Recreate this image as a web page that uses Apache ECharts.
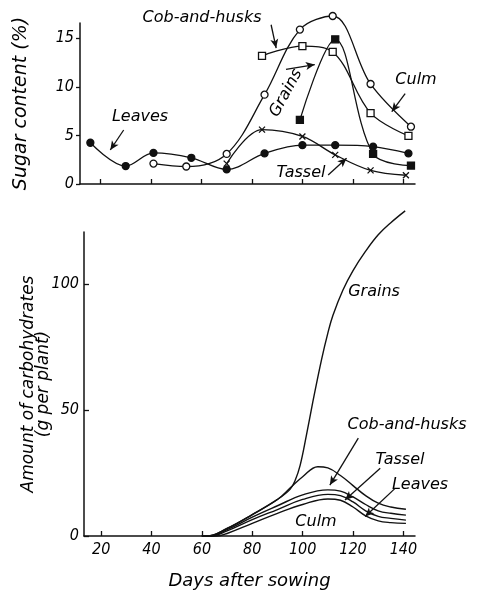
<!DOCTYPE html>
<html><head><meta charset="utf-8">
<script src="https://cdn.jsdelivr.net/npm/echarts@6/dist/echarts.min.js"></script>
<style>html,body{margin:0;padding:0;background:#fff}#c{width:481px;height:590px}</style>
</head><body><div id="c"></div>
<script>
// ---- Top panel: sugar content (%) ----
const leavesDays = [16, 30, 41, 56, 70, 85, 100, 113, 128, 142];
const leavesSugar = [4.25, 1.85, 3.2, 2.7, 1.5, 3.15, 4.0, 4.0, 3.85, 3.15];
const culmDays = [41, 54, 70, 85, 99, 112, 127, 143];
const culmSugar = [2.1, 1.8, 3.1, 9.2, 15.9, 17.3, 10.3, 5.9];
const cobDays = [84, 100, 112, 127, 142];
const cobSugar = [13.2, 14.2, 13.6, 7.3, 4.95];
const grainDays = [99, 113, 128, 143];
const grainSugar = [6.6, 14.9, 3.1, 1.9];
const tasselDays = [70, 84, 100, 113, 127, 141];
const tasselSugar = [2.1, 5.6, 4.9, 3.0, 1.4, 0.9];
const topYTicks = [0, 5, 10, 15];

// ---- Bottom panel: amount of carbohydrates (g per plant), cumulative curves ----
const culmAmtDays = [60, 66, 70, 80, 90, 100, 110, 115, 120, 125, 130, 135, 141];
const culmAmt = [0, 0, 1, 5, 9, 12.5, 14.7, 14.2, 11.5, 8, 6, 5.3, 5.0];
const leavesAmtDays = [60, 64, 70, 80, 90, 100, 110, 115, 120, 125, 130, 135, 141];
const leavesAmt = [0, 0, 2, 6.5, 10.5, 14.5, 16.5, 16, 13.5, 10, 7.8, 7, 6.3];
const tasselAmtDays = [60, 63, 70, 80, 90, 100, 110, 115, 120, 125, 130, 135, 141];
const tasselAmt = [0, 0, 2.5, 7.5, 12, 16.3, 18.3, 17.8, 15.5, 12.5, 10, 9, 8.3];
const cobAmtDays = [60, 62, 70, 80, 90, 95, 100, 106, 110, 115, 120, 125, 130, 135, 141];
const cobAmt = [0, 0, 3, 8.5, 14.5, 19, 23.5, 27.5, 27, 24, 20, 16, 13, 11.5, 10.6];
const grainAmtDays = [60, 62, 70, 80, 90, 95, 97, 99, 101.5, 104, 107.5, 110, 112, 116, 120, 125, 130, 135, 140.7];
const grainAmt = [0, 0, 3, 8.5, 14.5, 18.5, 22, 28, 40, 53, 70, 80.5, 87.5, 97.6, 105.3, 113, 119.5, 124.3, 129];
const xTicks = [20, 40, 60, 80, 100, 120, 140];
const bottomYTicks = [0, 50, 100];

const zip = (a, b) => a.map((v, i) => [v, b[i]]);
const FONT = 'DejaVu Sans';
const NUMFONT = '"Liberation Sans Narrow", "DejaVu Sans Condensed", "DejaVu Sans"';
const txt = {fontFamily: FONT, fontStyle: 'italic', color: '#000'};
const num = {fontFamily: NUMFONT, fontStyle: 'italic', color: '#000'};
const blk = '#111';

function arrow(p1, p2) { return [{coord: p1}, {coord: p2}]; }
const arrowStyle = {
  silent: true, symbol: ['none', 'arrow'], symbolSize: [6, 9],
  lineStyle: {color: blk, width: 1.3, type: 'solid'}, label: {show: false},
  animation: false
};

const chart = echarts.init(document.getElementById('c'), null, {renderer: 'canvas'});

const topSeries = (name, d, v, symbol, filled, size, arrows) => ({
  name, type: 'line', xAxisIndex: 0, yAxisIndex: 0, data: zip(d, v), smooth: 0.35,
  symbol, symbolSize: size, showAllSymbol: true, clip: false,
  lineStyle: {color: blk, width: 1.3},
  itemStyle: {color: filled ? blk : '#fff', borderColor: blk, borderWidth: 1.3},
  markLine: arrows ? Object.assign({data: arrows}, arrowStyle) : undefined,
  z: 3
});
const botSeries = (name, d, v, arrows) => ({
  name, type: 'line', xAxisIndex: 1, yAxisIndex: 1, data: zip(d, v), smooth: 0.4,
  symbol: 'none', clip: false, lineStyle: {color: blk, width: 1.4},
  markLine: arrows ? Object.assign({data: arrows}, arrowStyle) : undefined
});

const axisCommon = {
  axisLine: {show: true, lineStyle: {color: blk, width: 1.5}},
  splitLine: {show: false}
};
const label = (text, x, y, rot) => ({
  type: 'text', x, y, rotation: rot ? rot * Math.PI / 180 : 0,
  style: {text, font: 'italic 16px ' + FONT, fill: '#000', align: 'center', verticalAlign: 'middle'}
});

chart.setOption({
  animation: false,
  backgroundColor: '#fff',
  grid: [
    {left: 80, top: 23, width: 335, height: 161, containLabel: false, outerBoundsMode: 'none'},
    {left: 84, top: 232, width: 331, height: 304, containLabel: false, outerBoundsMode: 'none'}
  ],
  xAxis: [
    Object.assign({type: 'value', gridIndex: 0, min: 11.9, max: 144.6,
      axisTick: {show: true, inside: true, length: 5, customValues: xTicks, lineStyle: {color: blk, width: 1.3}},
      axisLabel: {show: false}}, axisCommon),
    Object.assign({type: 'value', gridIndex: 1, min: 13.2, max: 144.6,
      axisTick: {show: true, inside: true, length: 5, customValues: xTicks, lineStyle: {color: blk, width: 1.3}},
      axisLabel: Object.assign({show: true, customValues: xTicks, fontSize: 16, margin: 6}, num),
      name: 'Days after sowing', nameLocation: 'middle', nameGap: 36, nameMoveOverlap: false,
      nameTextStyle: Object.assign({fontSize: 18}, txt)}, axisCommon)
  ],
  yAxis: [
    Object.assign({type: 'value', gridIndex: 0, min: 0, max: 16.58,
      axisTick: {show: true, inside: false, length: 4, customValues: topYTicks, lineStyle: {color: blk, width: 1.3}},
      axisLabel: Object.assign({show: true, customValues: topYTicks, fontSize: 16, margin: 6}, num),
      name: 'Sugar content (%)', nameLocation: 'middle', nameGap: 49, nameRotate: 90, nameMoveOverlap: false,
      nameTextStyle: Object.assign({fontSize: 19}, txt)}, axisCommon),
    Object.assign({type: 'value', gridIndex: 1, min: 0, max: 120.6,
      axisTick: {show: true, inside: true, length: 5, customValues: bottomYTicks, lineStyle: {color: blk, width: 1.3}},
      axisLabel: Object.assign({show: true, customValues: bottomYTicks, fontSize: 16, margin: 5}, num),
      name: 'Amount of carbohydrates\n(g per plant)', nameLocation: 'middle', nameGap: 33, nameRotate: 90, nameMoveOverlap: false,
      nameTextStyle: Object.assign({fontSize: 17, lineHeight: 15}, txt)}, axisCommon)
  ],
  series: [
    topSeries('Leaves', leavesDays, leavesSugar, 'circle', true, 7, [arrow([29.2, 5.56], [23.9, 3.5])]),
    topSeries('Culm', culmDays, culmSugar, 'circle', false, 7, [arrow([140.7, 9.3], [135.4, 7.45])]),
    topSeries('Cob-and-husks', cobDays, cobSugar, 'rect', false, 7, [arrow([87.6, 16.4], [89.6, 14.0])]),
    topSeries('Grains', grainDays, grainSugar, 'rect', true, 7, [arrow([93.5, 11.8], [104.9, 12.3])]),
    topSeries('Tassel', tasselDays, tasselSugar, 'path://M0,0L10,10M10,0L0,10', false, 6, [arrow([110.2, 0.93], [117.5, 2.65])]),
    botSeries('Culm', culmAmtDays, culmAmt),
    botSeries('Leaves', leavesAmtDays, leavesAmt, [arrow([136.7, 18.9], [124.8, 7.7])]),
    botSeries('Tassel', tasselAmtDays, tasselAmt, [arrow([130.8, 26.9], [116.8, 14.3])]),
    botSeries('Cob-and-husks', cobAmtDays, cobAmt, [arrow([122.1, 38.8], [110.8, 20.2])]),
    botSeries('Grains', grainAmtDays, grainAmt)
  ],
  graphic: [
    label('Cob-and-husks', 202, 18),
    label('Leaves', 140, 117),
    label('Grains', 286, 93, 62),
    label('Culm', 416, 80),
    label('Tassel', 301, 173),
    label('Grains', 374, 292),
    label('Cob-and-husks', 407, 425),
    label('Tassel', 400, 460),
    label('Leaves', 420, 485),
    label('Culm', 316, 522)
  ]
});
</script></body></html>
